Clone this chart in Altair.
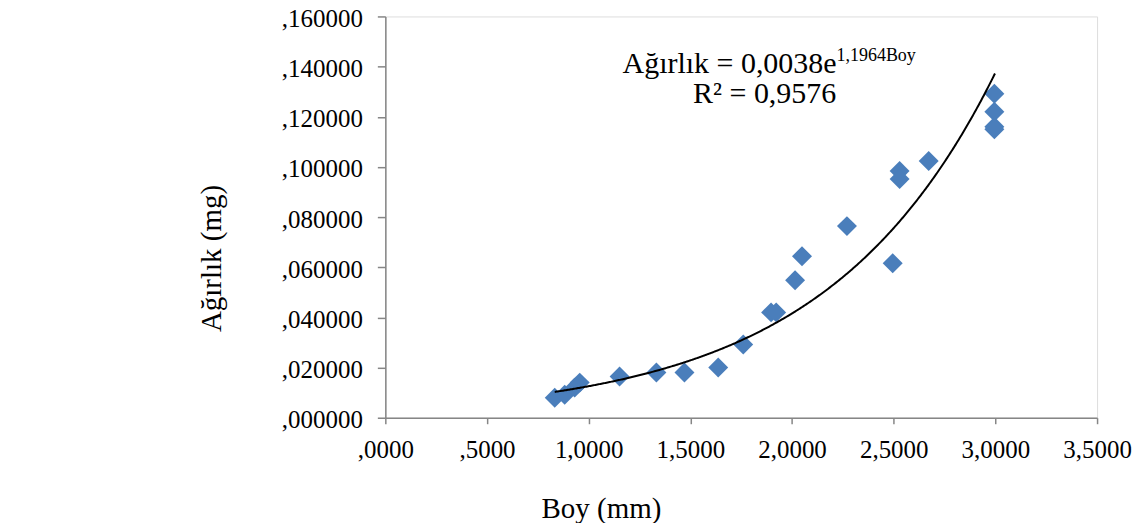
import altair as alt
import pandas as pd

# Data
boy = [0.833, 0.882, 0.931, 0.956, 1.152, 1.333, 1.471, 1.637, 1.760, 1.897, 1.922,
       2.015, 2.049, 2.270, 2.495, 2.529, 2.529, 2.672, 2.995, 2.995, 2.995, 2.995]
agirlik = [0.0080, 0.0092, 0.0120, 0.0140, 0.0164, 0.0180, 0.0180, 0.0200, 0.0292, 0.0420, 0.0420,
           0.0548, 0.0644, 0.0764, 0.0616, 0.0984, 0.0952, 0.1024, 0.1292, 0.1220, 0.1160, 0.1150]

x_ticks = [0, 0.5, 1.0, 1.5, 2.0, 2.5, 3.0, 3.5]
y_ticks = [0, 0.02, 0.04, 0.06, 0.08, 0.10, 0.12, 0.14, 0.16]

# Trendline coefficients (shown in the chart's equation)
coef_a = 0.0038
coef_b = 1.1964
eq_main = "Ağırlık = 0,0038e"
eq_sup = "1,1964Boy"
eq_r2 = "R² = 0,9576"

FONT = "Liberation Serif"
AXIS_GRAY = "#868686"

df = pd.DataFrame({"Boy": boy, "Agirlik": agirlik})

x_scale = alt.Scale(domain=[0, 3.5], nice=False, zero=False)
y_scale = alt.Scale(domain=[0, 0.16], nice=False)

x_axis = alt.Axis(
    values=x_ticks, title="Boy (mm)", grid=False,
    labelExpr="datum.value < 1 ? replace(format(datum.value, '.4f'), '0.', ',') : replace(format(datum.value, '.4f'), '.', ',')",
    labelFont=FONT, labelFontSize=25, labelColor="black", labelPadding=14,
    tickSize=6, tickColor=AXIS_GRAY, domainColor=AXIS_GRAY, domainWidth=1.5, tickWidth=1.5,
    titleFont=FONT, titleFontSize=29, titleFontWeight="normal", titleColor="black",
    titleX=216, titleY=100, titleAlign="center", titleBaseline="alphabetic",
    labelFlush=False, labelOverlap=False,
)
y_axis = alt.Axis(
    values=y_ticks, title="Ağırlık (mg)", grid=False,
    labelExpr="replace(format(datum.value, '.6f'), '0.', ',')",
    labelFont=FONT, labelFontSize=25, labelColor="black", labelPadding=15, labelOffset=2,
    tickSize=8, tickColor=AXIS_GRAY, domainColor=AXIS_GRAY, domainWidth=1.5, tickWidth=1.5,
    titleFont=FONT, titleFontSize=29, titleFontWeight="normal", titleColor="black",
    titleX=-165, titleY=242, titleAlign="center", titleBaseline="alphabetic", titleAngle=-90,
    labelFlush=False, labelOverlap=False,
)

points = alt.Chart(df).mark_point(
    shape="diamond", filled=True, color="#4A7EBB", opacity=1, size=400
).encode(
    x=alt.X("Boy:Q", scale=x_scale, axis=x_axis),
    y=alt.Y("Agirlik:Q", scale=y_scale, axis=y_axis),
)

trend = alt.Chart(alt.sequence(min(boy), max(boy) + 0.005, 0.005, as_="Boy")).transform_calculate(
    Agirlik=f"{coef_a} * exp({coef_b} * datum.Boy)"
).mark_line(color="black", strokeWidth=2).encode(
    x=alt.X("Boy:Q", scale=x_scale),
    y=alt.Y("Agirlik:Q", scale=y_scale),
)

t1 = alt.Chart(pd.DataFrame({"t": [eq_main]})).mark_text(
    font=FONT, fontSize=30, align="right", baseline="alphabetic", color="black"
).encode(x=alt.value(452), y=alt.value(57), text="t:N")

t2 = alt.Chart(pd.DataFrame({"t": [eq_sup]})).mark_text(
    font=FONT, fontSize=18, align="left", baseline="alphabetic", color="black"
).encode(x=alt.value(452), y=alt.value(45), text="t:N")

t3 = alt.Chart(pd.DataFrame({"t": [eq_r2]})).mark_text(
    font=FONT, fontSize=30, align="center", baseline="alphabetic", color="black"
).encode(x=alt.value(380), y=alt.value(87), text="t:N")

chart = alt.layer(points, trend, t1, t2, t3).properties(
    width=713, height=402,
    autosize=alt.AutoSizeParams(type="none"),
    padding={"left": 378, "top": 8, "right": 37, "bottom": 105},
).configure_view(stroke=None).configure(background="white")

chart.save("out.html", embed_options={"renderer": "svg", "actions": False})
